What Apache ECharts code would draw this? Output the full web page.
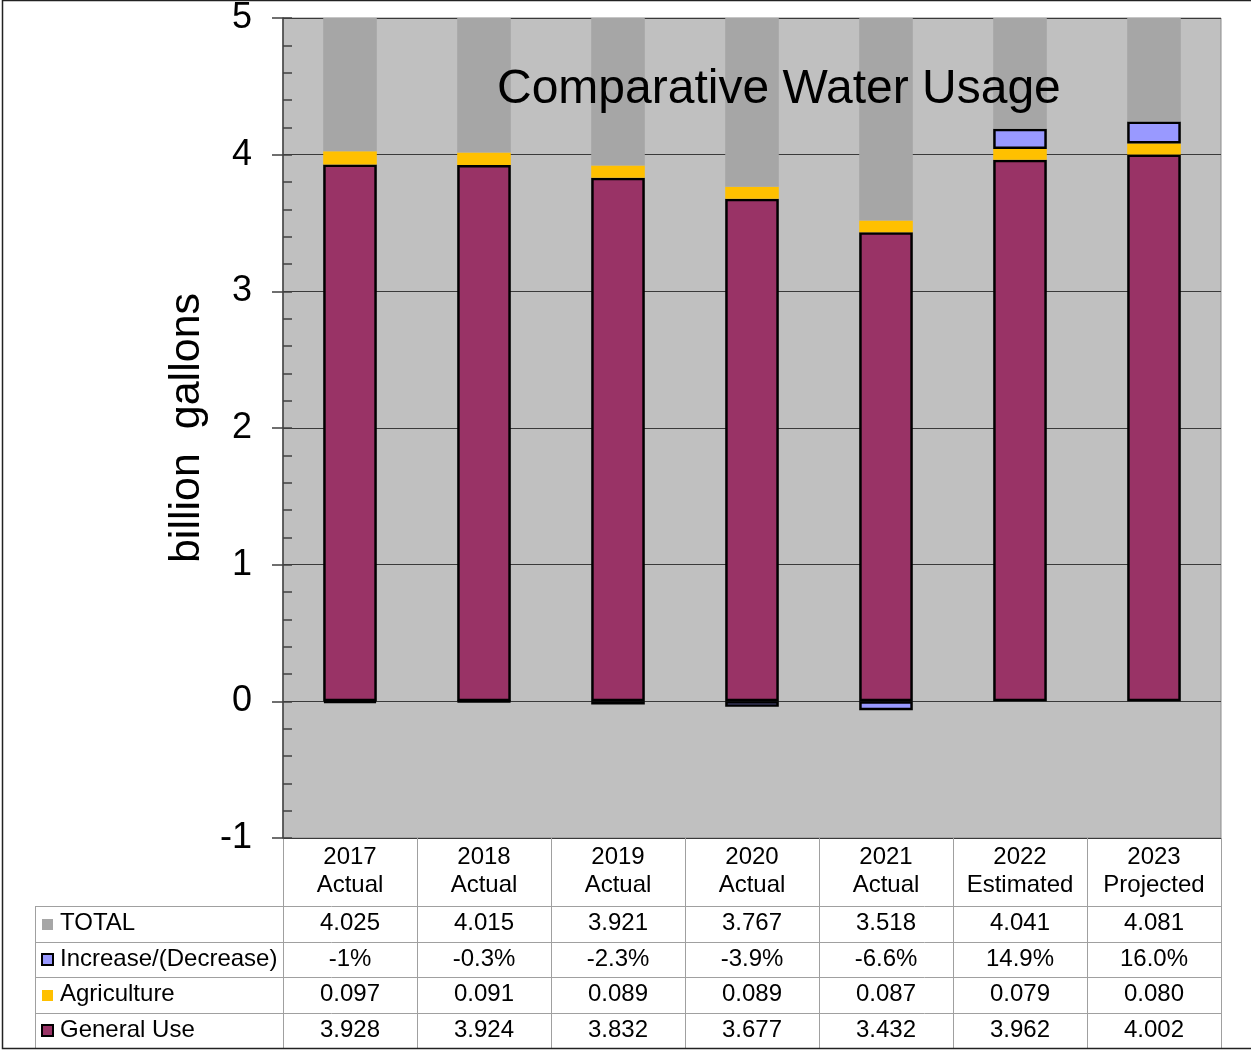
<!DOCTYPE html>
<html lang="en">
<head>
    <meta charset="UTF-8">
    <title>Comparative Water Usage</title>
    <script src="https://cdn.jsdelivr.net/npm/echarts@6/dist/echarts.min.js"></script>
    <style>
        html, body {margin: 0; padding: 0; background: #fff;}
        #main {width: 1252px; height: 1051px;}
    </style>
</head>
<body>
<div id="main"></div>
<script>
    // data
    var years = ['2017', '2018', '2019', '2020', '2021', '2022', '2023']
    var kinds = ['Actual', 'Actual', 'Actual', 'Actual', 'Actual', 'Estimated', 'Projected']
    var totalVals = [4.025, 4.015, 3.921, 3.767, 3.518, 4.041, 4.081]
    var changePct = [-1, -0.3, -2.3, -3.9, -6.6, 14.9, 16.0]
    var changeText = ['-1%', '-0.3%', '-2.3%', '-3.9%', '-6.6%', '14.9%', '16.0%']
    var agriVals = [0.097, 0.091, 0.089, 0.089, 0.087, 0.079, 0.080]
    var generalVals = [3.928, 3.924, 3.832, 3.677, 3.432, 3.962, 4.002]

    var font = '"Liberation Sans", Arial, sans-serif'
    var G = {left: 283, right: 31, top: 18, bottom: 213}
    var W = 1252, H = 1051

    var mCharts = echarts.init(document.getElementById('main'), null, {renderer: 'canvas'})

    var categories = years.map(function (y, i) { return y + '\n' + kinds[i] })

    var option = {
        animation: false,
        backgroundColor: '#fff',
        title: {
            text: 'Comparative Water Usage',
            left: 492,
            top: 61,
            textStyle: {fontFamily: font, fontSize: 48, fontWeight: 'normal', color: '#000'}
        },
        grid: {
            left: G.left, right: G.right, top: G.top, bottom: G.bottom,
            show: true, backgroundColor: '#C0C0C0', borderColor: '#8c8c8c', borderWidth: 1,
            outerBoundsMode: 'none'
        },
        xAxis: {
            type: 'category',
            data: categories,
            axisLine: {show: false},
            axisTick: {show: false},
            axisLabel: {
                interval: 0, hideOverlap: false,
                margin: 5, fontFamily: font, fontSize: 24, lineHeight: 28, color: '#000'
            }
        },
        yAxis: [
            {
                type: 'value', min: -1, max: 5, interval: 1,
                name: 'billion  gallons', nameLocation: 'middle', nameGap: 72,
                nameTextStyle: {fontFamily: font, fontSize: 43, color: '#000'},
                axisLine: {show: true, lineStyle: {color: '#404040', width: 1.5}},
                axisTick: {show: true, inside: false, length: 11, lineStyle: {color: '#404040', width: 1.5}},
                axisLabel: {margin: 31, fontFamily: font, fontSize: 36, color: '#000'},
                splitLine: {show: true, lineStyle: {color: '#3a3a3a', width: 1.2}}
            },
            {
                // minor ticks pointing into the plot
                type: 'value', min: -1, max: 5, interval: 0.2, position: 'left',
                axisLine: {show: false},
                axisTick: {show: true, inside: true, length: 9, lineStyle: {color: '#404040', width: 1.5}},
                axisLabel: {show: false},
                splitLine: {show: false}
            }
        ],
        series: [
            {
                name: 'General Use', type: 'bar', stack: 'use', barWidth: '40%',
                data: generalVals,
                itemStyle: {color: '#993366', borderColor: '#000', borderWidth: 2.5}
            },
            {
                name: 'Agriculture', type: 'bar', stack: 'use',
                data: agriVals,
                itemStyle: {color: '#FFC000', borderWidth: 0}
            },
            {
                name: 'Increase/(Decrease)', type: 'bar', stack: 'use',
                data: changePct.map(function (p) { return p / 100 }),
                itemStyle: {color: '#9999FF', borderColor: '#000', borderWidth: 2.5}
            },
            {
                name: 'TOTAL', type: 'bar', stack: 'use',
                data: totalVals,
                itemStyle: {color: '#A6A6A6', borderWidth: 0}
            }
        ]
    }
    mCharts.setOption(option)

    // data table under the plot
    var plotLeft = G.left, plotRight = W - G.right, plotBottom = H - G.bottom
    var colW = (plotRight - plotLeft) / years.length
    var tableTop = 906, rowH = 35.5, tableBottom = 1048, tableLeft = 35
    var lineStyle = {stroke: '#a0a0a0', lineWidth: 1}
    var rows = [
        {label: 'TOTAL', fill: '#A6A6A6', stroke: null, vals: totalVals.map(function (v) { return v.toFixed(3) })},
        {label: 'Increase/(Decrease)', fill: '#9999FF', stroke: '#000', vals: changeText},
        {label: 'Agriculture', fill: '#FFC000', stroke: null, vals: agriVals.map(function (v) { return v.toFixed(3) })},
        {label: 'General Use', fill: '#993366', stroke: '#000', vals: generalVals.map(function (v) { return v.toFixed(3) })}
    ]
    var els = []
    for (var k = 0; k <= years.length; k++) {
        var x = Math.round(plotLeft + k * colW) + 0.5
        els.push({type: 'line', shape: {x1: x, y1: plotBottom, x2: x, y2: tableBottom}, style: lineStyle})
    }
    els.push({type: 'line', shape: {x1: tableLeft + 0.5, y1: tableTop, x2: tableLeft + 0.5, y2: tableBottom}, style: lineStyle})
    for (var r = 0; r < rows.length; r++) {
        var y0 = Math.round(tableTop + r * rowH) + 0.5
        els.push({type: 'line', shape: {x1: tableLeft, y1: y0, x2: plotRight, y2: y0}, style: lineStyle})
        var cy = tableTop + (r + 0.5) * rowH
        var key = {fill: rows[r].fill}
        if (rows[r].stroke) { key.stroke = rows[r].stroke; key.lineWidth = 2 }
        els.push({type: 'rect', shape: {x: 42, y: Math.round(cy - 5), width: 11, height: 11}, style: key})
        els.push({type: 'text', x: 60, y: cy, style: {text: rows[r].label, font: '24px ' + font, fill: '#000', align: 'left', verticalAlign: 'middle'}})
        for (var i = 0; i < years.length; i++) {
            var cx = mCharts.convertToPixel({xAxisIndex: 0}, i)
            els.push({type: 'text', x: cx, y: cy, style: {text: rows[r].vals[i], font: '24px ' + font, fill: '#000', align: 'center', verticalAlign: 'middle'}})
        }
    }
    // outer frame
    els.push({type: 'polyline', shape: {points: [[W - 1, 0.5], [2.5, 0.5], [2.5, 1048.5], [W - 1, 1048.5]]}, style: {stroke: '#222', lineWidth: 1.5, fill: null}})
    mCharts.setOption({graphic: {elements: els}})

    window.onresize = function () {
        mCharts.resize()
    }
</script>
</body>
</html>
